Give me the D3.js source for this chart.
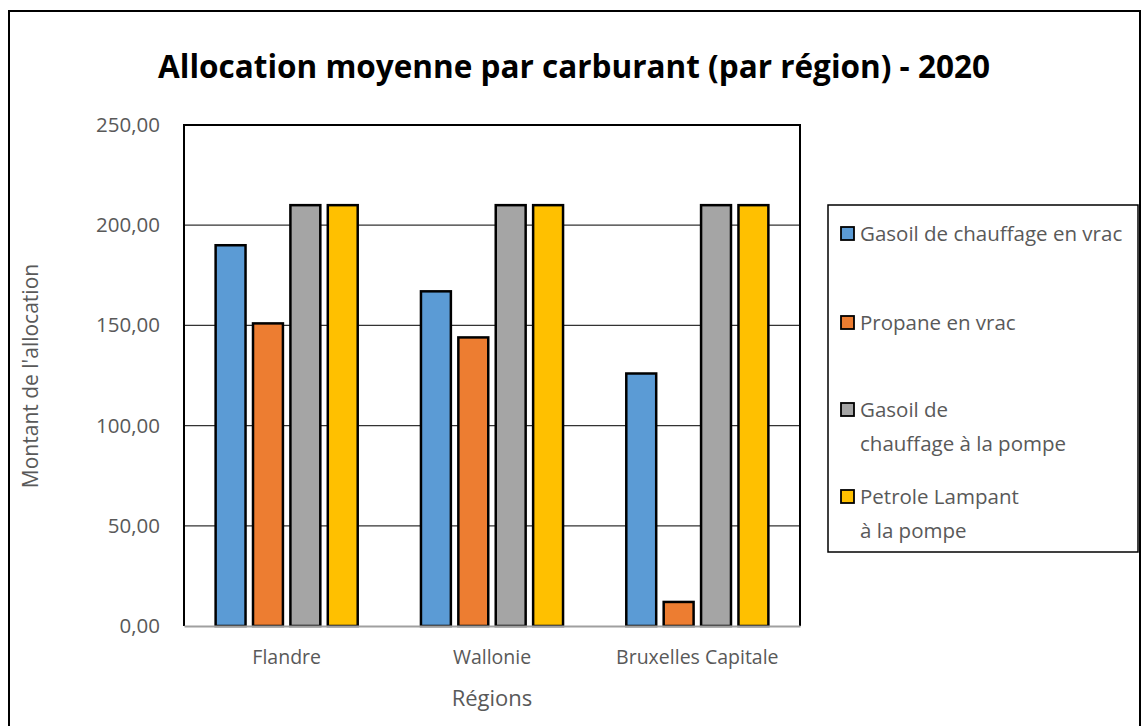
<!DOCTYPE html>
<html>
<head>
<meta charset="utf-8">
<script src="https://cdn.jsdelivr.net/npm/d3@7"></script>
<style>
  body { margin: 0; background: #fff; }
  text { font-family: "Open Sans", "Noto Sans", sans-serif; }
</style>
</head>
<body>
<script>
// data
var regions = ["Flandre", "Wallonie", "Bruxelles Capitale"];
var series = ["Gasoil de chauffage en vrac", "Propane en vrac", "Gasoil de chauffage à la pompe", "Petrole Lampant à la pompe"];
var legendLines = [["Gasoil de chauffage en vrac"], ["Propane en vrac"], ["Gasoil de", "chauffage à la pompe"], ["Petrole Lampant", "à la pompe"]];
var colors = ["#5b9bd5", "#ed7d31", "#a5a5a5", "#ffc000"];
var values = [
  [190, 151, 210, 210],
  [167, 144, 210, 210],
  [126, 12, 210, 210]
];
var yTicks = [0, 50, 100, 150, 200, 250];

var W = 1142, H = 726;
var plotL = 184, plotT = 125, plotR = 800, plotB = 626;

var svg = d3.select("body").append("svg")
    .attr("width", W)
    .attr("height", H);

// outer frame
svg.append("rect")
    .attr("x", 9).attr("y", 11)
    .attr("width", 1131).attr("height", 800)
    .attr("fill", "none").attr("stroke", "#000").attr("stroke-width", 2);

// title
svg.append("text")
    .attr("x", 574).attr("y", 78)
    .attr("text-anchor", "middle")
    .attr("font-size", 31.5).attr("font-weight", "bold")
    .attr("fill", "#000")
    .text("Allocation moyenne par carburant (par région) - 2020");

var y = d3.scaleLinear().domain([0, 250]).range([plotB, plotT]);
var x0 = d3.scaleBand().domain(regions).range([plotL, plotR]).paddingInner(0.308).paddingOuter(0.154);
var x1 = d3.scaleBand().domain(series).range([0, x0.bandwidth()]).paddingInner(0.2).paddingOuter(0);

// gridlines
svg.append("g")
  .selectAll("line")
  .data(yTicks.slice(1, -1))
  .join("line")
    .attr("x1", plotL).attr("x2", plotR)
    .attr("y1", function(d) { return y(d); })
    .attr("y2", function(d) { return y(d); })
    .attr("stroke", "#333").attr("stroke-width", 1.2);

// y axis labels
var fmt = function(d) { return d3.format(".2f")(d).replace(".", ","); };
svg.append("g")
    .attr("transform", "translate(" + plotL + ",0)")
    .call(d3.axisLeft(y).tickValues(yTicks).tickFormat(fmt).tickSize(0).tickPadding(24))
    .call(function(g) { g.select(".domain").remove(); })
    .selectAll("text")
    .attr("font-size", 20.5).attr("fill", "#595959")
    .attr("font-family", "'Open Sans', sans-serif");

// bars
var groups = svg.append("g")
  .selectAll("g")
  .data(values)
  .join("g")
    .attr("transform", function(d, i) { return "translate(" + x0(regions[i]) + ",0)"; });

groups.selectAll("rect")
  .data(function(d) { return d; })
  .join("rect")
    .attr("x", function(d, j) { return x1(series[j]); })
    .attr("y", function(d) { return y(d); })
    .attr("width", x1.bandwidth())
    .attr("height", function(d) { return plotB - y(d); })
    .attr("fill", function(d, j) { return colors[j]; })
    .attr("stroke", "#000").attr("stroke-width", 2.5);

// plot area border (top, left, right black; bottom axis gray)
svg.append("path")
    .attr("d", "M" + plotL + "," + plotB + "V" + plotT + "H" + plotR + "V" + plotB)
    .attr("fill", "none").attr("stroke", "#000").attr("stroke-width", 2);

svg.append("g")
    .attr("transform", "translate(0," + plotB + ")")
    .call(d3.axisBottom(x0).tickSize(0).tickPadding(24))
    .call(function(g) { g.select(".domain").attr("stroke", "#a0a0a0").attr("stroke-width", 2); })
    .selectAll("text")
    .attr("font-size", 19.5).attr("fill", "#595959")
    .attr("font-family", "'Open Sans', sans-serif");

// axis titles
svg.append("text")
    .attr("x", 492).attr("y", 706)
    .attr("text-anchor", "middle")
    .attr("font-size", 22).attr("fill", "#595959")
    .text("Régions");

svg.append("text")
    .attr("transform", "translate(38,376) rotate(-90)")
    .attr("text-anchor", "middle")
    .attr("font-size", 21).attr("fill", "#595959")
    .text("Montant de l'allocation");

// legend
var lg = svg.append("g");
lg.append("rect")
    .attr("x", 828).attr("y", 205)
    .attr("width", 310).attr("height", 347)
    .attr("fill", "#fff").attr("stroke", "#000").attr("stroke-width", 1.5);

var legendY = [234, 323, 410, 497];
var items = lg.selectAll("g.item")
  .data(series)
  .join("g")
    .attr("class", "item")
    .attr("transform", function(d, i) { return "translate(841," + legendY[i] + ")"; });

items.append("rect")
    .attr("x", 0).attr("y", -7)
    .attr("width", 13).attr("height", 13)
    .attr("fill", function(d, i) { return colors[i]; })
    .attr("stroke", "#000").attr("stroke-width", 1.8);

items.append("text")
    .attr("x", 19).attr("y", 0)
    .attr("font-size", 20.5).attr("fill", "#595959")
  .selectAll("tspan")
  .data(function(d, i) { return legendLines[i]; })
  .join("tspan")
    .attr("x", 19)
    .attr("dy", function(d, k) { return k === 0 ? "0.35em" : 34; })
    .text(function(d) { return d; });
</script>
</body>
</html>
